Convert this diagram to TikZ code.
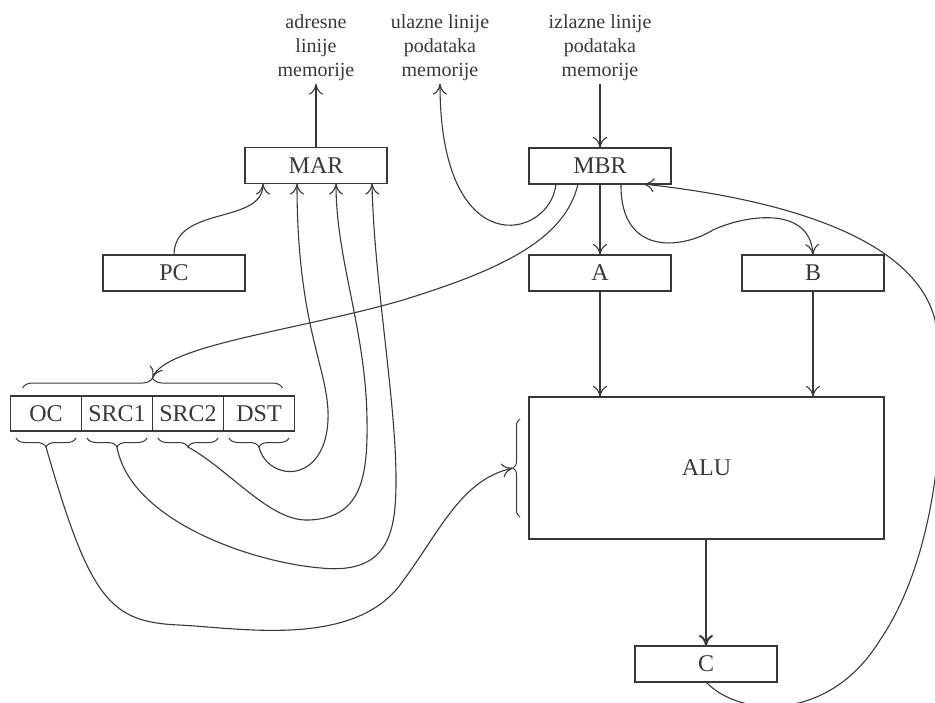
\documentclass[tikz,border=0pt]{standalone}
\usepackage{fontspec}
\setmainfont{Liberation Serif}
\usetikzlibrary{arrows.meta,decorations.pathreplacing,positioning}
\definecolor{ink}{HTML}{383838}
\tikzset{
  reg/.style={draw=ink, text=ink, line width=0.6pt, minimum width=71pt, minimum height=18pt,
    inner sep=0pt, outer sep=0pt, font=\fontsize{12}{14}\selectfont},
  fld/.style={reg, minimum width=35.5pt, minimum height=17.5pt},
  lbl/.style={text=ink, align=center, anchor=north, inner sep=0pt, outer sep=1.5pt,
    font=\fontsize{10}{12}\selectfont},
  wire/.style={draw=ink, line width=0.55pt, -{To[length=5.5pt,width=7pt]}},
  brc/.style={draw=ink, line width=0.5pt, decorate, decoration={brace, amplitude=#1}},
  brc/.default=4.5pt,
  brcm/.style={brc=#1, decoration={mirror}},
  brcm/.default=4.5pt
}
\begin{document}
\begin{tikzpicture}[x=0.5pt, y=-0.5pt]
\useasboundingbox (0,0) rectangle (935,702);
\clip (0,0) rectangle (935,702);

% memory lines
\node[lbl] (adr) at (316,11.5) {adresne\\linije\\memorije};
\node[lbl] (ulz) at (440,11.5) {ulazne linije\\podataka\\memorije};
\node[lbl] (izl) at (600,11.5) {izlazne linije\\podataka\\memorije};

% registers
\node[reg] (MAR) at (316,165.5) {MAR};
\node[reg] (MBR) at (600,166) {MBR};
\node[reg] (PC) at (174,273) {PC};
\node[reg] (A) at (600,273) {A};
\node[reg] (B) at (813,273) {B};
\node[reg, minimum width=177.5pt, minimum height=71pt] (ALU) at (706.5,468) {ALU};
\node[reg] (C) at (706,664) {C};

% instruction fields
\node[fld] (OC) at (46,413.5) {OC};
\node[fld, right=0pt of OC] (SRC1) {SRC1};
\node[fld, right=0pt of SRC1] (SRC2) {SRC2};
\node[fld, right=0pt of SRC2] (DST) {DST};

% braces
\draw[brc=5pt] ([xshift=6pt,yshift=4pt]OC.north west) -- ([xshift=-6pt,yshift=4pt]DST.north east);
\coordinate (instr) at ([yshift=9pt]SRC1.north east);
\draw[brcm] ([xshift=-15pt,yshift=-3.5pt]OC.south) -- ([xshift=15pt,yshift=-3.5pt]OC.south);
\draw[brcm] ([xshift=-15pt,yshift=-3.5pt]SRC1.south) -- ([xshift=15pt,yshift=-3.5pt]SRC1.south);
\draw[brcm] ([xshift=-15pt,yshift=-3.5pt]SRC2.south) -- ([xshift=15pt,yshift=-3.5pt]SRC2.south);
\draw[brcm] ([xshift=-15pt,yshift=-3.5pt]DST.south) -- ([xshift=15pt,yshift=-3.5pt]DST.south);
\coordinate (ocb) at ([yshift=-8pt]OC.south);
\coordinate (src1b) at ([yshift=-8pt]SRC1.south);
\coordinate (src2b) at ([yshift=-8pt]SRC2.south);
\coordinate (dstb) at ([yshift=-8pt]DST.south);
\draw[brc=3.5pt] ([xshift=-4.5pt,yshift=-24.5pt]ALU.west) -- ([xshift=-4.5pt,yshift=24.5pt]ALU.west);
\coordinate (alub) at ([xshift=-8pt]ALU.west);

% straight connectors
\draw[wire] (MAR.north) -- (adr.south);
\draw[wire] (izl.south) -- (MBR.north);
\draw[wire] (MBR.south) -- (A.north);
\draw[wire] (A.south) -- (A.south |- ALU.north);
\draw[wire] (B.south) -- (B.south |- ALU.north);
\draw[wire, line width=1pt] (C.north |- ALU.south) -- (C.north);

% into MAR
\draw[wire] (PC.north) .. controls (174,205) and (263,225) .. ([xshift=-26.5pt]MAR.south);
\draw[wire] (dstb) .. controls (268,482) and (325,485) .. (328,420)
  .. controls (330,370) and (297,330) .. ([xshift=-9.5pt]MAR.south);
\draw[wire] (src2b) .. controls (230,470) and (270,522) .. (309,520)
  .. controls (360,518) and (368,480) .. (367,420)
  .. controls (366,330) and (336,260) .. ([xshift=10pt]MAR.south);
\draw[wire] (src1b) .. controls (130,520) and (250,562) .. (321,568)
  .. controls (390,575) and (396,530) .. (396,480)
  .. controls (396,400) and (374,280) .. ([xshift=28pt]MAR.south);

% opcode to ALU
\draw[wire] (ocb) .. controls (90,600) and (110,622) .. (179,625)
  .. controls (240,628) and (352,648) .. (400,585)
  .. controls (440,532) and (460,480) .. (alub);

% out of MBR
\draw[wire] ([xshift=-22pt]MBR.south) .. controls (550,240) and (440,265) .. (ulz.south);
\draw[wire] ([xshift=-11pt]MBR.south) .. controls (565,240) and (500,270) .. (403,300)
  .. controls (300,330) and (165,345) .. (instr);
\draw[wire] ([xshift=10.5pt]MBR.south) .. controls (620,255) and (680,250) .. (713,230)
  .. controls (745,215) and (810,205) .. (B.north);

% result back to MBR
\draw[wire] (C.south) .. controls (740,718) and (830,722) .. (880,640)
  .. controls (935,560) and (950,420) .. (935,320)
  .. controls (915,240) and (790,200) .. ([xshift=21.5pt]MBR.south);
\end{tikzpicture}
\end{document}
